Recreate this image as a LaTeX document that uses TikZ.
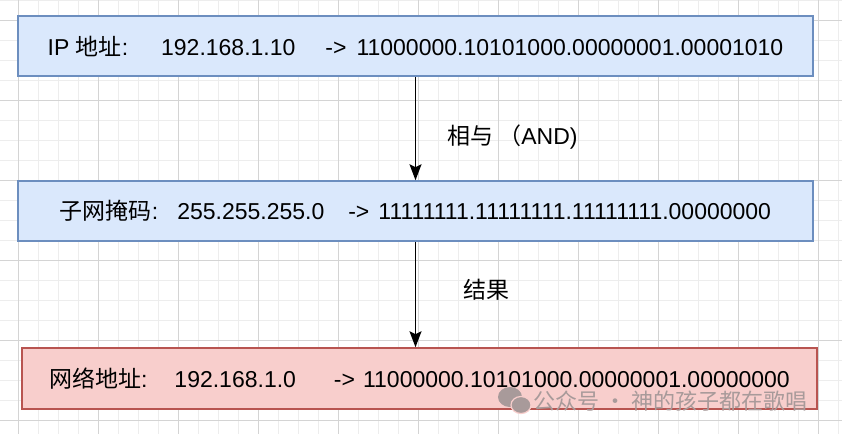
\documentclass[tikz,border=0pt]{standalone}
\usepackage{fontspec}
\setmainfont{Liberation Sans}
\newfontfamily\cjk{Noto Sans CJK SC}
\usetikzlibrary{arrows.meta}
\definecolor{bluefill}{HTML}{DAE8FC}
\definecolor{blueline}{HTML}{6C8EBF}
\definecolor{redfill}{HTML}{F8CECC}
\definecolor{redline}{HTML}{B85450}
\definecolor{markgray}{HTML}{A89A9A}

\begin{document}
\begin{tikzpicture}[x=1pt,y=-1pt,
	minorline/.style={draw=black!7,line width=0.8pt},
	majorline/.style={draw=black!17,line width=0.8pt},
	addrbox/.style={line width=1.5pt,minimum width=795pt,minimum height=60pt,inner sep=0pt,font=\fontsize{23}{28}\selectfont},
	bluebox/.style={addrbox,draw=blueline,fill=bluefill},
	redbox/.style={addrbox,draw=redline,fill=redfill},
	flow/.style={draw=black,line width=1.5pt,-{Stealth[length=16pt,width=12pt,inset=3pt]}},
	note/.style={anchor=west,inner sep=0pt,font=\fontsize{23}{28}\selectfont}]
			\useasboundingbox[fill=white] (0,0) rectangle (842,434);
			% grid
			\foreach \x in {-2,18,...,838} \draw[minorline] (\x,0) -- (\x,434);
			\foreach \y in {0,20,...,420} \draw[minorline] (0,\y) -- (842,\y);
			\foreach \x in {18,98,...,818} \draw[majorline] (\x,0) -- (\x,434);
			\foreach \y in {20,100,...,420} \draw[majorline] (0,\y) -- (842,\y);
			% boxes
			\node[bluebox] (ip) at (415.5, 46) {IP {\cjk 地址}:\hspace{33pt}192.168.1.10\hspace{30pt}->\hspace{10pt}11000000.10101000.00000001.00001010};
			\node[bluebox] (mask) at (415.5, 211) {{\cjk 子网掩码}:\hspace{19pt}255.255.255.0\hspace{24pt}->\hspace{9pt}11111111.11111111.11111111.00000000};
			\node[redbox, minimum height=61pt] (net) at (419.5, 378.5) {{\cjk 网络地址}:\hspace{27pt}192.168.1.0\hspace{38pt}->\hspace{8pt}11000000.10101000.00000001.00000000};
			% arrows
			\draw[flow] (ip.south) -- (mask.north);
			\draw[flow] (mask.south) -- (mask.south |- net.north);
			\node[note] (and) at (447, 137) {{\cjk 相与 （}AND)};
			\node[note] (res) at (463, 290) {\cjk 结果};
			% watermark
			\fill[markgray] (510, 397) ellipse (12 and 10);
			\filldraw[markgray, draw=redfill, line width=1.2pt] (521, 405) ellipse (10 and 8.5);
			\node[note, text=markgray, font=\cjk\fontsize{22}{26}\selectfont] (mark) at (533, 401) {公众号 · 神的孩子都在歌唱};
		\end{tikzpicture}
\end{document}
